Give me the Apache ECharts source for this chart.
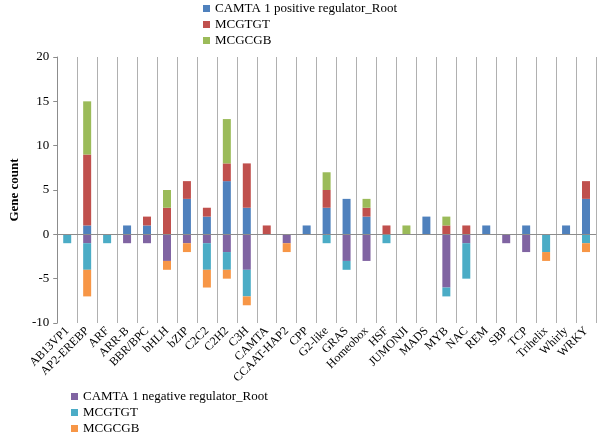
<!DOCTYPE html>
<html>
<head>
<meta charset="utf-8">
<script src="https://cdn.jsdelivr.net/npm/echarts@6/dist/echarts.min.js"></script>
<style>html,body{margin:0;padding:0;background:#fff}#c{width:600px;height:436px}</style>
</head>
<body>
<div id="c"></div>
<script>
var categories = ['AB13VP1','AP2-EREBP','ARF','ARR-B','BBR/BPC','bHLH','bZIP','C2C2','C2H2','C3H','CAMTA','CCAAT-HAP2','CPP','G2-like','GRAS','Homeobox','HSF','JUMONJI','MADS','MYB','NAC','REM','SBP','TCP','Trihelix','Whirly','WRKY'];
var posRoot   = [0,1,0,1,1,0,4,2,6,3,0,0,1,3,4,2,0,0,2,0,0,1,0,1,0,1,4];
var posMCGTGT = [0,8,0,0,1,3,2,1,2,5,1,0,0,2,0,1,1,0,0,1,1,0,0,0,0,0,2];
var posMCGCGB = [0,6,0,0,0,2,0,0,5,0,0,0,0,2,0,1,0,1,0,1,0,0,0,0,0,0,0];
var negRoot   = [0,-1,0,-1,-1,-3,-1,-1,-2,-4,0,-1,0,0,-3,-3,0,0,0,-6,-1,0,-1,-2,0,0,0];
var negMCGTGT = [-1,-3,-1,0,0,0,0,-3,-2,-3,0,0,0,-1,-1,0,-1,0,0,-1,-4,0,0,0,-2,0,-1];
var negMCGCGB = [0,-3,0,0,0,-1,-1,-2,-1,-1,0,-1,0,0,0,0,0,0,0,0,0,0,0,0,-1,0,-1];
var yTicks = [-10,-5,0,5,10,15,20];

var names = ['CAMTA 1 positive regulator_Root','MCGTGT','MCGCGB','CAMTA 1 negative regulator_Root','MCGTGT ','MCGCGB '];
var colors = ['#4F81BD','#C0504D','#9BBB59','#8064A2','#4BACC6','#F79646'];
var datas = [posRoot,posMCGTGT,posMCGCGB,negRoot,negMCGTGT,negMCGCGB];
var font = '"Liberation Serif","Times New Roman",serif';

var series = datas.map(function(d,i){
  var s = {
    name: names[i], type:'bar', stack:'all', data:d, barWidth:8,
    itemStyle:{color:colors[i]}, emphasis:{disabled:true}
  };
  if(i===0){
    s.markLine = {silent:true, symbol:'none', label:{show:false},
      lineStyle:{color:'#8c8c8c', type:'solid', width:1},
      data:[{yAxis:0}]};
  }
  return s;
});

var legendText = {fontFamily:font, fontSize:13, color:'#000', lineHeight:13};
var chart = echarts.init(document.getElementById('c'), null, {renderer:'canvas'});
chart.setOption({
  animation:false,
  color:colors,
  textStyle:{fontFamily:font},
  grid:{left:44, right:4, top:57, bottom:113, containLabel:false},
  legend:[
    {data:names.slice(0,3), orient:'vertical', left:203, top:2, padding:0, icon:'rect', itemWidth:7, itemHeight:7, itemGap:3,
     height:60, textStyle:legendText, selectedMode:false},
    {data:names.slice(3,6), orient:'vertical', left:71, top:390, padding:0, icon:'rect', itemWidth:7, itemHeight:7, itemGap:3,
     height:60, textStyle:legendText, selectedMode:false}
  ],
  xAxis:{
    type:'category', data:categories, position:'bottom',
    axisLine:{show:false, onZero:false},
    axisTick:{show:false},
    splitLine:{show:true, lineStyle:{color:'#b0b0b0', width:1}},
    axisLabel:{rotate:45, fontFamily:font, fontSize:12, color:'#000', margin:6, interval:0}
  },
  yAxis:{
    type:'value', min:-10, max:20, interval:5,
    name:'Gene count', nameLocation:'middle', nameGap:26,
    nameTextStyle:{fontFamily:font, fontSize:13, fontWeight:'bold', color:'#000'},
    axisLine:{show:true, lineStyle:{color:'#8c8c8c'}},
    axisTick:{show:true, length:4, lineStyle:{color:'#8c8c8c'}},
    splitLine:{show:false},
    axisLabel:{fontFamily:font, fontSize:13, color:'#000', margin:8,
      formatter:function(v){return yTicks.indexOf(v)>=0 ? String(v) : '';}}
  },
  series:series
});
</script>
</body>
</html>
